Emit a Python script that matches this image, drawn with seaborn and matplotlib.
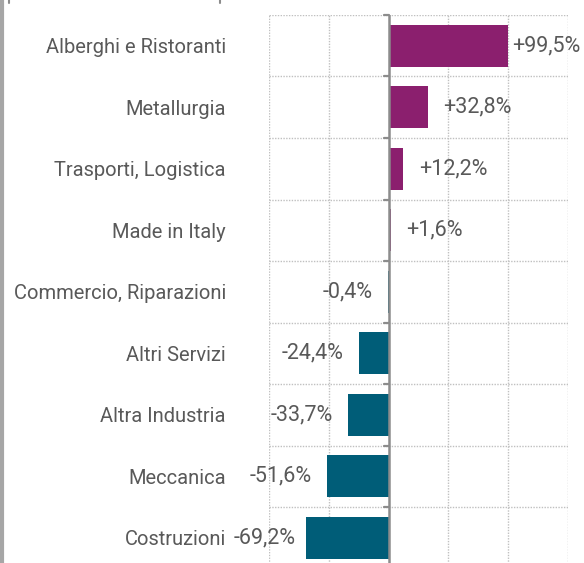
import pandas as pd
import matplotlib.pyplot as plt
import seaborn as sns
from matplotlib.lines import Line2D

sectors = ["Alberghi e Ristoranti", "Metallurgia", "Trasporti, Logistica",
           "Made in Italy", "Commercio, Riparazioni", "Altri Servizi",
           "Altra Industria", "Meccanica", "Costruzioni"]
changes = [99.5, 32.8, 12.2, 1.6, -0.4, -24.4, -33.7, -51.6, -69.2]

purple = "#8B1F6E"
teal = "#005D78"
grey_txt = "#595959"

df = pd.DataFrame({"sector": sectors, "change": changes})
df["sign"] = ["pos" if v >= 0 else "neg" for v in df["change"]]

sns.set_style("white")
plt.rcParams['font.family'] = ['Roboto', 'DejaVu Sans']

fig = plt.figure(figsize=(5.84, 5.63), dpi=100)
ax = fig.add_axes([0.4606, -0.0099, 0.5120, 0.9833])

sns.barplot(data=df, x="change", y="sector", hue="sign",
            palette={"pos": purple, "neg": teal}, orient="h",
            width=0.68, dodge=False, legend=False, saturation=1,
            linewidth=0, ax=ax)

ax.set_xlim(-100, 150)
ax.set_ylim(len(sectors) - 0.5, -0.5)

# dotted grid
for x in [-100, -50, 50, 100, 150]:
    ax.axvline(x, color="#c0c0c0", lw=1, ls=(0, (1, 1)), zorder=0)
for b in range(len(sectors) + 1):
    ax.axhline(b - 0.5, color="#c0c0c0", lw=1, ls=(0, (1, 1)), zorder=0)
    ax.plot([-4, 0], [b - 0.5, b - 0.5], color="#8c8c8c", lw=1.6, zorder=3,
            clip_on=False)
ax.axvline(0, color="#8c8c8c", lw=1.8, zorder=1)

for s in ax.spines.values():
    s.set_visible(False)
ax.set_xticks([])
ax.set_xlabel("")
ax.set_ylabel("")
ax.tick_params(axis="y", length=0, pad=31, labelsize=14.5, labelcolor=grey_txt)

for i, v in enumerate(changes):
    label = f"{v:+.1f}%".replace(".", ",")
    if v >= 0:
        ax.text(min(v + 13, 103), i, label, ha="left", va="center",
                fontsize=15.5, color=grey_txt)
    else:
        ax.text(max(v - 13, -78), i, label, ha="right", va="center",
                fontsize=15.5, color=grey_txt)

# frame bits from the original page
fig.add_artist(Line2D([0.003, 0.003], [0, 1], color="#a6a6a6", lw=3,
                      transform=fig.transFigure))
fig.add_artist(Line2D([0.016, 0.016], [0.995, 1], color="#8c8c8c", lw=1.5,
                      transform=fig.transFigure))
fig.add_artist(Line2D([0.377, 0.377], [0.995, 1], color="#8c8c8c", lw=1.5,
                      transform=fig.transFigure))

fig.savefig("out.png", dpi=100)
